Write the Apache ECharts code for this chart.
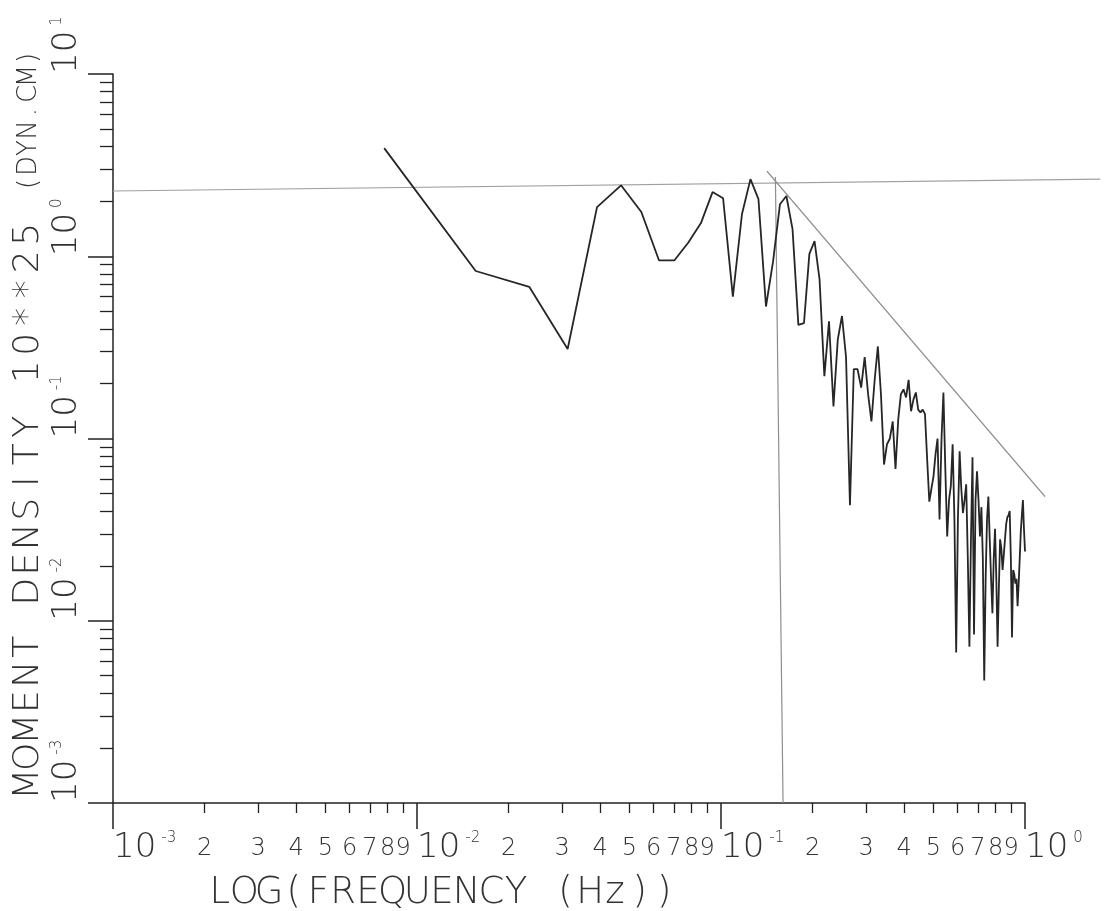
<!DOCTYPE html>
<html>
<head>
<meta charset="utf-8">
<title>Moment density spectrum</title>
<script src="https://cdn.jsdelivr.net/npm/echarts@6/dist/echarts.min.js"></script>
<style>
  html, body { margin: 0; padding: 0; background: #fff; }
  #main { width: 1107px; height: 911px; }
</style>
</head>
<body>
<div id="main"></div>
<script>
// spectrum bins (Hz)
const freqs = [
  0.0078, 0.0156, 0.0234, 0.0313, 0.0391, 0.0469, 0.0547, 0.0625, 0.0703, 0.0781,
  0.0859, 0.0938, 0.1016, 0.1094, 0.1172, 0.125, 0.1328, 0.1406, 0.1484, 0.1563,
  0.1641, 0.1719, 0.1797, 0.1875, 0.1953, 0.2031, 0.2109, 0.2188, 0.2266, 0.2344,
  0.2422, 0.25, 0.2578, 0.2656, 0.2734, 0.2813, 0.2891, 0.2969, 0.3047, 0.3125,
  0.3203, 0.3281, 0.3359, 0.3438, 0.3516, 0.3594, 0.3672, 0.375, 0.3828, 0.3906,
  0.3984, 0.4063, 0.4141, 0.4219, 0.4297, 0.4375, 0.4453, 0.4531, 0.4609, 0.4688,
  0.4766, 0.4844, 0.4922, 0.5, 0.5078, 0.5156, 0.5234, 0.5313, 0.5391, 0.5469,
  0.5547, 0.5625, 0.5703, 0.5781, 0.5859, 0.5938, 0.6016, 0.6094, 0.6172, 0.625,
  0.6328, 0.6406, 0.6484, 0.6563, 0.6641, 0.6719, 0.6797, 0.6875, 0.6953, 0.7031,
  0.7109, 0.7188, 0.7266, 0.7344, 0.7422, 0.75, 0.7578, 0.7656, 0.7734, 0.7813,
  0.7891, 0.7969, 0.8047, 0.8125, 0.8203, 0.8281, 0.8359, 0.8438, 0.8516, 0.8594,
  0.8672, 0.875, 0.8828, 0.8906, 0.8984, 0.9063, 0.9141, 0.9219, 0.9297, 0.9375,
  0.9453, 0.9531, 0.9609, 0.9688, 0.9766, 0.9844, 0.9922, 1
];
// moment density, units of 10**25 dyn.cm
const density = [
  3.92, 0.83, 0.68, 0.31, 1.86, 2.45, 1.75, 0.95, 0.95, 1.19,
  1.52, 2.25, 2.08, 0.60, 1.70, 2.65, 2.06, 0.53, 0.94, 1.93,
  2.14, 1.41, 0.42, 0.43, 1.03, 1.21, 0.75, 0.22, 0.44, 0.15,
  0.35, 0.47, 0.28, 0.043, 0.24, 0.24, 0.19, 0.28, 0.175, 0.124,
  0.21, 0.32, 0.175, 0.072, 0.093, 0.10, 0.124, 0.068, 0.127, 0.175,
  0.186, 0.168, 0.21, 0.141, 0.164, 0.179, 0.144, 0.139, 0.144, 0.136,
  0.077, 0.045, 0.053, 0.062, 0.082, 0.10, 0.036, 0.099, 0.179, 0.068,
  0.029, 0.046, 0.055, 0.093, 0.036, 0.0067, 0.036, 0.085, 0.053, 0.039,
  0.046, 0.056, 0.022, 0.0072, 0.028, 0.079, 0.0084, 0.046, 0.066, 0.046,
  0.029, 0.042, 0.022, 0.0047, 0.017, 0.036, 0.048, 0.028, 0.017, 0.011,
  0.022, 0.032, 0.017, 0.0072, 0.015, 0.028, 0.025, 0.019, 0.023, 0.028,
  0.034, 0.037, 0.038, 0.040, 0.022, 0.0081, 0.019, 0.018, 0.016, 0.017,
  0.012, 0.016, 0.022, 0.031, 0.038, 0.046, 0.032, 0.024
];

// pencil guide lines drawn over the plot
const levelF = [0.001, 1.77];
const levelV = [2.28, 2.65];
const cornerF = [0.151, 0.160];
const cornerV = [2.72, 0.001];
const slopeF = [0.1416, 1.164];
const slopeV = [2.93, 0.048];

// axis ranges and ticks
const xMin = 0.001, xMax = 1, xGuideMax = 2;
const yMin = 0.001, yMax = 10;
const xDecades = [0.001, 0.01, 0.1, 1];
const yDecades = [0.001, 0.01, 0.1, 1, 10];
const mantissas = [2, 3, 4, 5, 6, 7, 8, 9];

function minorTicks(decades) {
  const out = [];
  decades.slice(0, -1).forEach(d => mantissas.forEach(m => out.push(+(m * d).toPrecision(3))));
  return out;
}
const xMinor = minorTicks(xDecades);
const yMinor = minorTicks(yDecades);

const FONT = '"DejaVu Sans", sans-serif';
const INK = '#333';
const decadeRich = {
  b: { fontFamily: FONT, fontWeight: 200, fontSize: 34, color: INK },
  s: { fontFamily: FONT, fontWeight: 200, fontSize: 15, color: INK, verticalAlign: 'top', padding: [0, 0, 0, 5] }
};
function decadeLabel(v) {
  return '{b|10}{s|' + Math.round(Math.log10(v)) + '}';
}
function mantissaLabel(v) {
  return String(Math.round(v / Math.pow(10, Math.floor(Math.log10(v) + 1e-9))));
}
// plotter lettering: every character in a fixed cell
function lettered(text, style) {
  return text.split('').map(c => '{' + style + '|' + c + '}').join('');
}
function cell(size, width) {
  return { fontFamily: FONT, fontWeight: 200, fontSize: size, color: INK, width: width, align: 'center' };
}

const plot = { left: 113, top: 74, width: 912, height: 729 };
const axisLine = { show: true, lineStyle: { color: '#222', width: 1.5 } };
const tickStyle = { color: '#222', width: 1.3 };

const chart = echarts.init(document.getElementById('main'));
chart.setOption({
  backgroundColor: '#fff',
  animation: false,
  grid: [
    Object.assign({ outerBoundsMode: 'none' }, plot),
    // same scale, stretched past 10^0 so the pencil lines can run off the frame
    Object.assign({ outerBoundsMode: 'none' }, plot,
      { width: plot.width * Math.log10(xGuideMax / xMin) / Math.log10(xMax / xMin) })
  ],
  xAxis: [
    {
      type: 'log', logBase: 10, min: xMin, max: xMax, position: 'bottom',
      axisLine: axisLine,
      splitLine: { show: false },
      axisTick: { customValues: xMinor, length: 10, lineStyle: tickStyle },
      axisLabel: { customValues: xMinor, formatter: mantissaLabel, margin: 34,
        fontFamily: FONT, fontWeight: 200, fontSize: 24, color: INK },
      name: lettered('LOG(FREQUENCY (Hz))', 'c'),
      nameLocation: 'middle', nameGap: 72,
      nameTextStyle: { padding: [0, 254, 0, 0], rich: { c: cell(37, 24.7) } }
    },
    {
      type: 'log', logBase: 10, min: xMin, max: xMax, position: 'bottom',
      axisLine: { show: false },
      splitLine: { show: false },
      axisTick: { customValues: xDecades, length: 26, lineStyle: { color: '#222', width: 1.5 } },
      axisLabel: { customValues: xDecades, formatter: decadeLabel, margin: 28,
        align: 'left', rich: decadeRich }
    },
    {
      gridIndex: 1, type: 'log', logBase: 10, min: xMin, max: xGuideMax, show: false
    }
  ],
  yAxis: [
    {
      type: 'log', logBase: 10, min: yMin, max: yMax, position: 'left',
      axisLine: axisLine,
      splitLine: { show: false },
      axisTick: { customValues: yMinor, length: 13, lineStyle: tickStyle },
      axisLabel: { show: false },
      name: lettered('MOMENT DENSITY 10**25 ', 'm') + lettered('(DYN.CM)', 'u'),
      nameLocation: 'middle', nameGap: 66,
      nameTextStyle: { padding: [0, 0, 0, 30], rich: { m: cell(36, 27.5), u: cell(26, 18) } }
    },
    {
      type: 'log', logBase: 10, min: yMin, max: yMax, position: 'left',
      axisLine: { show: false },
      splitLine: { show: false },
      axisTick: { customValues: yDecades, length: 25, lineStyle: { color: '#222', width: 1.5 } },
      axisLabel: { customValues: yDecades, formatter: decadeLabel, rotate: 90, margin: 29,
        align: 'left', rich: decadeRich }
    },
    {
      gridIndex: 1, type: 'log', logBase: 10, min: yMin, max: yMax, show: false
    }
  ],
  series: [
    {
      name: 'level', type: 'line', xAxisIndex: 2, yAxisIndex: 2, silent: true, symbol: 'none',
      lineStyle: { color: '#a0a0a0', width: 1.2 },
      data: levelF.map((f, i) => [f, levelV[i]])
    },
    {
      name: 'corner', type: 'line', xAxisIndex: 2, yAxisIndex: 2, silent: true, symbol: 'none',
      lineStyle: { color: '#8e8e8e', width: 1.2 },
      data: cornerF.map((f, i) => [f, cornerV[i]])
    },
    {
      name: 'slope', type: 'line', xAxisIndex: 2, yAxisIndex: 2, silent: true, symbol: 'none',
      lineStyle: { color: '#8e8e8e', width: 1.4 },
      data: slopeF.map((f, i) => [f, slopeV[i]])
    },
    {
      name: 'spectrum', type: 'line', symbol: 'none',
      lineStyle: { color: '#262626', width: 1.8 },
      data: freqs.map((f, i) => [f, density[i]])
    }
  ]
});
</script>
</body>
</html>
